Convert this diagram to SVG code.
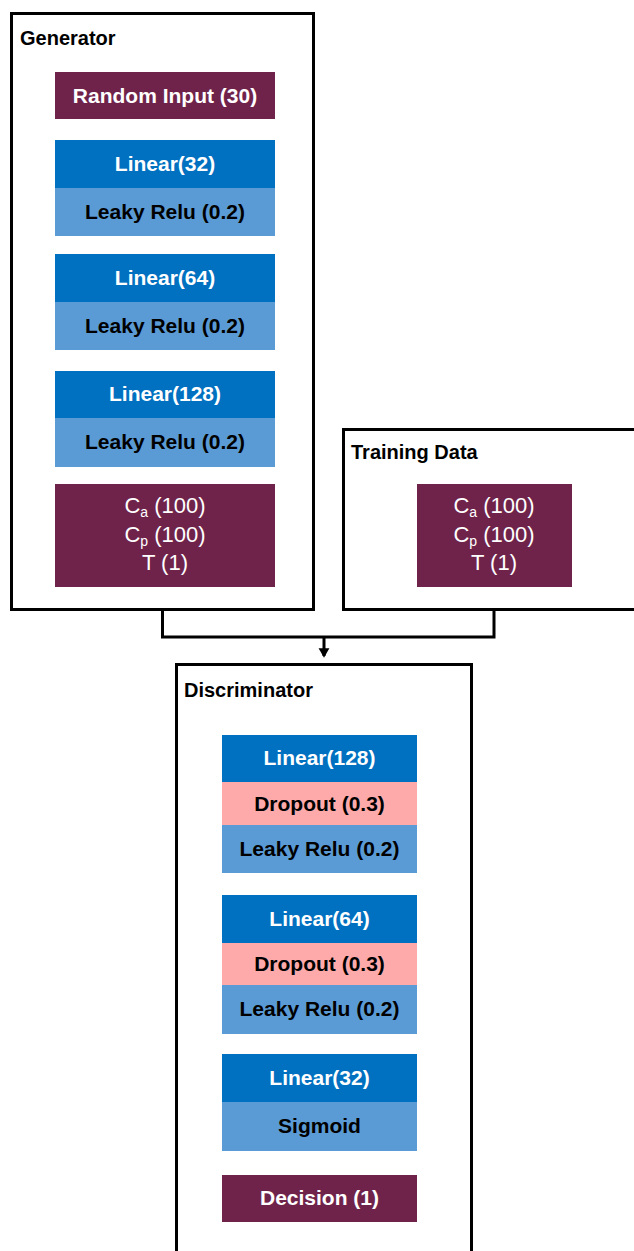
<svg xmlns="http://www.w3.org/2000/svg" width="634" height="1251" viewBox="0 0 634 1251">
<style>
.frame{fill:#fff;stroke:#000;stroke-width:3}
.pur{fill:#70234A}
.dk{fill:#0070C0}
.lt{fill:#5B9BD5}
.pk{fill:#FFAAAA}
text{font-family:"Liberation Sans",Arial,sans-serif;font-size:21px;font-weight:bold;text-anchor:middle}
.w{fill:#fff}
.b{fill:#000}
.lbl{text-anchor:start;fill:#000;font-size:20px}
.reg{font-weight:normal;font-size:22px}
.sub{font-size:14px}
.conn{fill:none;stroke:#000;stroke-width:3}
</style>
<defs>
<marker id="arr" markerWidth="4" markerHeight="4" refX="2.6" refY="2" orient="auto" markerUnits="strokeWidth">
<path d="M0,0.2 L3.2,2 L0,3.8 Z" fill="#000"/>
</marker>
</defs>
<g id="connectors">
<polyline class="conn" points="162.5,610 162.5,637 494,637 494,610"/>
<line class="conn" x1="324" y1="637" x2="324" y2="656" marker-end="url(#arr)"/>
</g>
<g id="generator">
<rect class="frame" x="11.5" y="13.5" width="302" height="596"/>
<text class="lbl" x="20" y="45">Generator</text>
</g>
<g id="random-input">
<rect class="pur" x="55" y="72" width="220" height="47"/>
<text class="w" x="165" y="103">Random Input (30)</text>
</g>
<g id="g-linear32">
<rect class="dk" x="55" y="140" width="220" height="48"/>
<text class="w" x="165" y="171">Linear(32)</text>
<rect class="lt" x="55" y="188" width="220" height="48"/>
<text class="b" x="165" y="219">Leaky Relu (0.2)</text>
</g>
<g id="g-linear64">
<rect class="dk" x="55" y="254" width="220" height="48"/>
<text class="w" x="165" y="285">Linear(64)</text>
<rect class="lt" x="55" y="302" width="220" height="48"/>
<text class="b" x="165" y="333">Leaky Relu (0.2)</text>
</g>
<g id="g-linear128">
<rect class="dk" x="55" y="371" width="220" height="47"/>
<text class="w" x="165" y="401">Linear(128)</text>
<rect class="lt" x="55" y="418" width="220" height="49"/>
<text class="b" x="165" y="449">Leaky Relu (0.2)</text>
</g>
<g id="g-output">
<rect class="pur" x="55" y="484" width="220" height="103"/>
<text class="w reg" x="165" y="513">C<tspan class="sub" dy="4">a</tspan><tspan dy="-4"> (100)</tspan></text>
<text class="w reg" x="165" y="542">C<tspan class="sub" dy="4">p</tspan><tspan dy="-4"> (100)</tspan></text>
<text class="w reg" x="165" y="570">T (1)</text>
</g>
<g id="training-data">
<rect class="frame" x="343.5" y="429.5" width="300" height="180"/>
<text class="lbl" x="351" y="459">Training Data</text>
</g>
<g id="t-data">
<rect class="pur" x="417" y="484" width="155" height="103"/>
<text class="w reg" x="494" y="513">C<tspan class="sub" dy="4">a</tspan><tspan dy="-4"> (100)</tspan></text>
<text class="w reg" x="494" y="542">C<tspan class="sub" dy="4">p</tspan><tspan dy="-4"> (100)</tspan></text>
<text class="w reg" x="494" y="570">T (1)</text>
</g>
<g id="discriminator">
<rect class="frame" x="176.5" y="664.5" width="295" height="600"/>
<text class="lbl" x="184" y="697">Discriminator</text>
</g>
<g id="d-linear128">
<rect class="dk" x="222" y="735" width="195" height="47"/>
<text class="w" x="319.5" y="765">Linear(128)</text>
<rect class="pk" x="222" y="782" width="195" height="43"/>
<text class="b" x="319.5" y="811">Dropout (0.3)</text>
<rect class="lt" x="222" y="825" width="195" height="48"/>
<text class="b" x="319.5" y="856">Leaky Relu (0.2)</text>
</g>
<g id="d-linear64">
<rect class="dk" x="222" y="895" width="195" height="48"/>
<text class="w" x="319.5" y="926">Linear(64)</text>
<rect class="pk" x="222" y="943" width="195" height="42"/>
<text class="b" x="319.5" y="971">Dropout (0.3)</text>
<rect class="lt" x="222" y="985" width="195" height="49"/>
<text class="b" x="319.5" y="1016">Leaky Relu (0.2)</text>
</g>
<g id="d-linear32">
<rect class="dk" x="222" y="1054" width="195" height="48"/>
<text class="w" x="319.5" y="1085">Linear(32)</text>
<rect class="lt" x="222" y="1102" width="195" height="49"/>
<text class="b" x="319.5" y="1133">Sigmoid</text>
</g>
<g id="decision">
<rect class="pur" x="222" y="1175" width="195" height="47"/>
<text class="w" x="319.5" y="1205">Decision (1)</text>
</g>
</svg>
